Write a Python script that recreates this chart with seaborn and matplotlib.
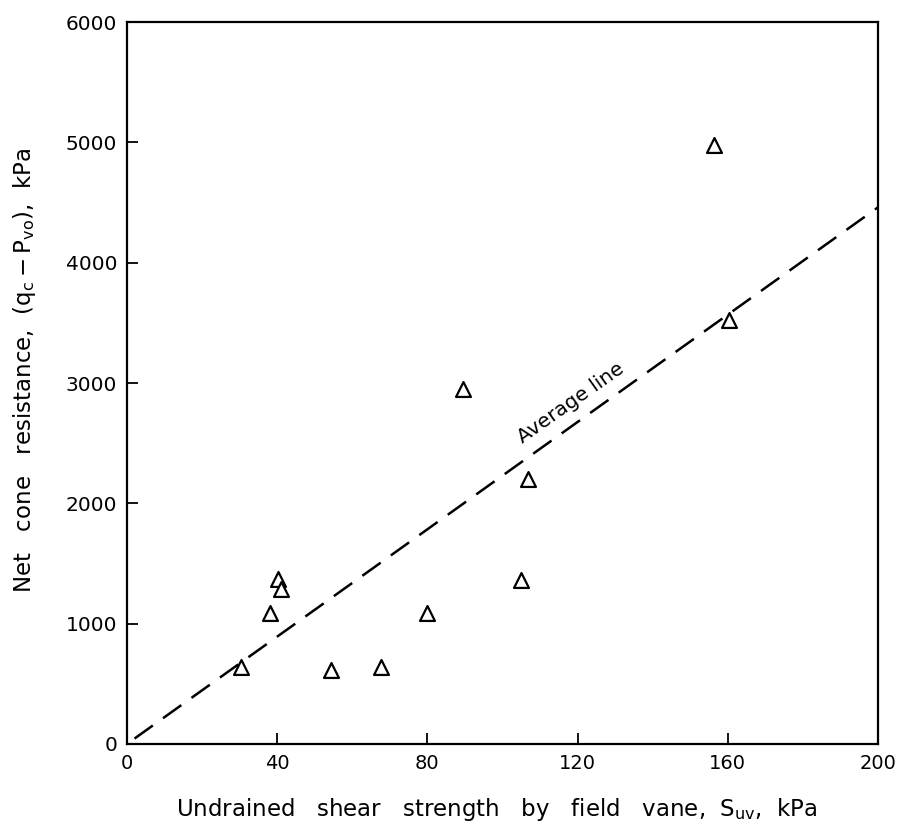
import matplotlib
matplotlib.use('Agg')

import numpy as np
import pandas as pd
import seaborn as sns
import matplotlib.pyplot as plt

# ---------- data ----------
suv = [30.4, 38.1, 40.2, 41.1, 54.2, 67.7, 79.9, 89.4, 104.8, 106.8, 156.4, 160.4]
qnet = [640, 1090, 1370, 1290, 615, 640, 1090, 2950, 1365, 2205, 4980, 3520]

# average line end points
line_x = [2, 200]
line_y = [45, 4460]

x_ticks = [0, 40, 80, 120, 160, 200]
y_ticks = [0, 1000, 2000, 3000, 4000, 5000, 6000]

df = pd.DataFrame({'suv': suv, 'qnet': qnet})

# ---------- style ----------
sns.set_style('ticks')
plt.rcParams['font.family'] = ['DejaVu Sans']
plt.rcParams['mathtext.fontset'] = 'dejavusans'
plt.rcParams['text.color'] = 'black'
plt.rcParams['axes.labelcolor'] = 'black'

fig = plt.figure(figsize=(8.97, 8.25), dpi=100)
ax = fig.add_axes([0.1416, 0.0982, 0.8372, 0.8751])

sns.lineplot(x=line_x, y=line_y, ax=ax, color='black', linewidth=1.8,
             linestyle=(0, (9, 5)))
sns.scatterplot(data=df, x='suv', y='qnet', ax=ax, marker='^', s=115,
                color='white', edgecolor='black', linewidth=1.6, zorder=3)
ax.collections[0].set_facecolor('none')

ax.text(118.2, 2834, 'Average line', rotation=35.2, rotation_mode='anchor',
        ha='center', va='center', fontsize=14.5, color='black')

ax.set_xlim(0, 200)
ax.set_ylim(0, 6000)
ax.set_xticks(x_ticks)
ax.set_yticks(y_ticks)
ax.tick_params(direction='in', length=8, width=1.3, pad=7, colors='black')
ax.tick_params(axis='x', labelsize=14)
ax.tick_params(axis='y', labelsize=14.5)

for sp in ax.spines.values():
    sp.set_visible(True)
    sp.set_linewidth(1.6)
    sp.set_color('black')

ax.set_xlabel('Undrained   shear   strength   by   field   vane,  $\\mathrm{S_{uv}}$,  kPa',
              fontsize=16.5)
ax.set_ylabel('Net   cone   resistance,  $\\mathrm{(q_c - P_{vo})}$,  kPa',
              fontsize=16.5)
ax.xaxis.set_label_coords(0.493, -0.072)
ax.xaxis.label.set_va('top')
ax.yaxis.set_label_coords(-0.118, 0.518)

fig.savefig('out.png', dpi=100)
